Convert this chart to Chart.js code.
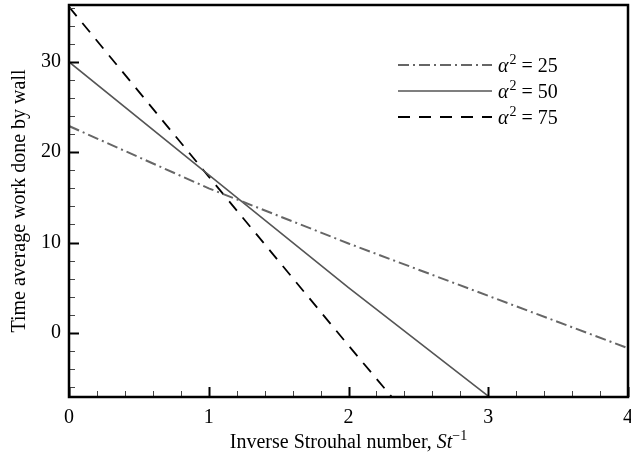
<!DOCTYPE html>
<html>
<head>
<meta charset="utf-8">
<script src="https://cdn.jsdelivr.net/npm/chart.js@4/dist/chart.umd.min.js"></script>
<style>
body { margin: 0; background: #fff; }
#wrap { width: 631px; height: 459px; position: relative; }
</style>
</head>
<body>
<div id="wrap"><canvas id="c"></canvas></div>
<script>
// values
var xs25 = [0, 1, 2, 3, 4];
var ys25 = [22.9, 16.0, 9.9, 4.1, -1.7];
var xs50 = [0, 1, 2, 3];
var ys50 = [30.0, 17.5, 5.0, -7.0];
var xs75 = [0, 1, 2, 2.31];
var ys75 = [36.1, 17.3, -1.4, -7.1];
var alphaSq = ['25', '50', '75'];
var xTicks = [0, 1, 2, 3, 4];
var yTicks = [0, 10, 20, 30];

var serif = "'Liberation Serif', 'Times New Roman', serif";

function pts(xs, ys) {
    return xs.map((x, i) => ({ x: x, y: ys[i] }));
}

// frame, inward ticks, legend and the x title (mixed italic / superscript)
var decor = {
    id: 'decor',
    afterDatasetsDraw(chart) {
        const ctx = chart.ctx, a = chart.chartArea;
        const sx = chart.scales.x, sy = chart.scales.y;
        ctx.save();
        ctx.strokeStyle = '#000';

        // x ticks every 0.2, major every 1
        for (let i = 0; i <= 20; i++) {
            const px = Math.round(sx.getPixelForValue(i / 5)) + 0.5;
            const major = i % 5 === 0;
            ctx.lineWidth = major ? 2 : 1;
            ctx.strokeStyle = major ? '#000' : '#444';
            ctx.beginPath();
            ctx.moveTo(px, a.bottom);
            ctx.lineTo(px, a.bottom - (major ? 10 : 6));
            ctx.stroke();
        }
        // y ticks every 2, major every 10
        for (let v = -6; v <= 36; v += 2) {
            const py = Math.round(sy.getPixelForValue(v)) + 0.5;
            const major = v % 10 === 0;
            ctx.lineWidth = major ? 2 : 1;
            ctx.strokeStyle = major ? '#000' : '#444';
            ctx.beginPath();
            ctx.moveTo(a.left, py);
            ctx.lineTo(a.left + (major ? 10 : 6), py);
            ctx.stroke();
        }

        ctx.strokeStyle = '#000';
        ctx.lineWidth = 2.5;
        ctx.strokeRect(a.left, a.top, a.right - a.left, a.bottom - a.top);

        // legend
        chart.data.datasets.forEach((ds, i) => {
            const y = 65 + i * 26;
            ctx.save();
            ctx.strokeStyle = ds.borderColor;
            ctx.lineWidth = ds.borderWidth;
            ctx.setLineDash(ds.borderDash || []);
            ctx.beginPath();
            ctx.moveTo(398, y);
            ctx.lineTo(492, y);
            ctx.stroke();
            ctx.restore();

            ctx.fillStyle = '#000';
            ctx.textBaseline = 'alphabetic';
            ctx.textAlign = 'left';
            let x = 498;
            const base = y + 7;
            ctx.font = 'italic 20px ' + serif;
            ctx.fillText('α', x, base);
            x += ctx.measureText('α').width + 1;
            ctx.font = '14px ' + serif;
            ctx.fillText('2', x, base - 8);
            x += ctx.measureText('2').width;
            ctx.font = '20px ' + serif;
            ctx.fillText(' = ' + alphaSq[i], x, base);
        });

        // x axis title
        const parts = [
            { t: 'Inverse Strouhal number, ', f: '20px ', dy: 0 },
            { t: 'St', f: 'italic 20px ', dy: 0 },
            { t: '\u22121', f: '14px ', dy: -8 }
        ];
        let w = 0;
        parts.forEach(p => { ctx.font = p.f + serif; p.w = ctx.measureText(p.t).width; w += p.w; });
        let x = (a.left + a.right) / 2 - w / 2;
        parts.forEach(p => {
            ctx.font = p.f + serif;
            ctx.fillText(p.t, x, 448 + p.dy);
            x += p.w;
        });
        ctx.restore();
    }
};

var datasets = [
    {
        label: 'α² = ' + alphaSq[0],
        data: pts(xs25, ys25),
        borderColor: '#666',
        borderWidth: 2,
        borderDash: [11, 4, 2, 4],
    },
    {
        label: 'α² = ' + alphaSq[1],
        data: pts(xs50, ys50),
        borderColor: '#555',
        borderWidth: 1.6,
        borderDash: [],
    },
    {
        label: 'α² = ' + alphaSq[2],
        data: pts(xs75, ys75),
        borderColor: '#000',
        borderWidth: 1.8,
        borderDash: [12, 9],
    },
];

new Chart(document.getElementById('c'), {
    type: 'line',
    data: { datasets: datasets },
    plugins: [decor],
    options: {
        responsive: true,
        maintainAspectRatio: false,
        animation: false,
        layout: { padding: { top: 5, right: 3, left: 0, bottom: 0 } },
        elements: { point: { radius: 0 }, line: { tension: 0, fill: false } },
        plugins: { legend: { display: false }, tooltip: { enabled: false } },
        scales: {
            x: {
                type: 'linear',
                min: 0,
                max: 4,
                afterBuildTicks: s => { s.ticks = xTicks.map(v => ({ value: v })); },
                afterFit: s => { s.height = 62; s.paddingLeft = 0; s.paddingRight = 0; },
                grid: { display: false, drawTicks: false },
                border: { display: false },
                ticks: { color: '#000', padding: 9, maxRotation: 0, font: { family: serif, size: 20 } },
            },
            y: {
                type: 'linear',
                min: -7.1,
                max: 36.3,
                afterBuildTicks: s => { s.ticks = yTicks.map(v => ({ value: v })); },
                afterFit: s => { s.width = 69; s.paddingTop = 0; s.paddingBottom = 0; },
                grid: { display: false, drawTicks: false },
                border: { display: false },
                ticks: { color: '#000', padding: 8, font: { family: serif, size: 20 } },
                title: {
                    display: true,
                    text: 'Time average work done by wall',
                    color: '#000',
                    padding: { top: 8, bottom: 0 },
                    font: { family: serif, size: 20 },
                },
            },
        },
    },
});
</script>
</body>
</html>
